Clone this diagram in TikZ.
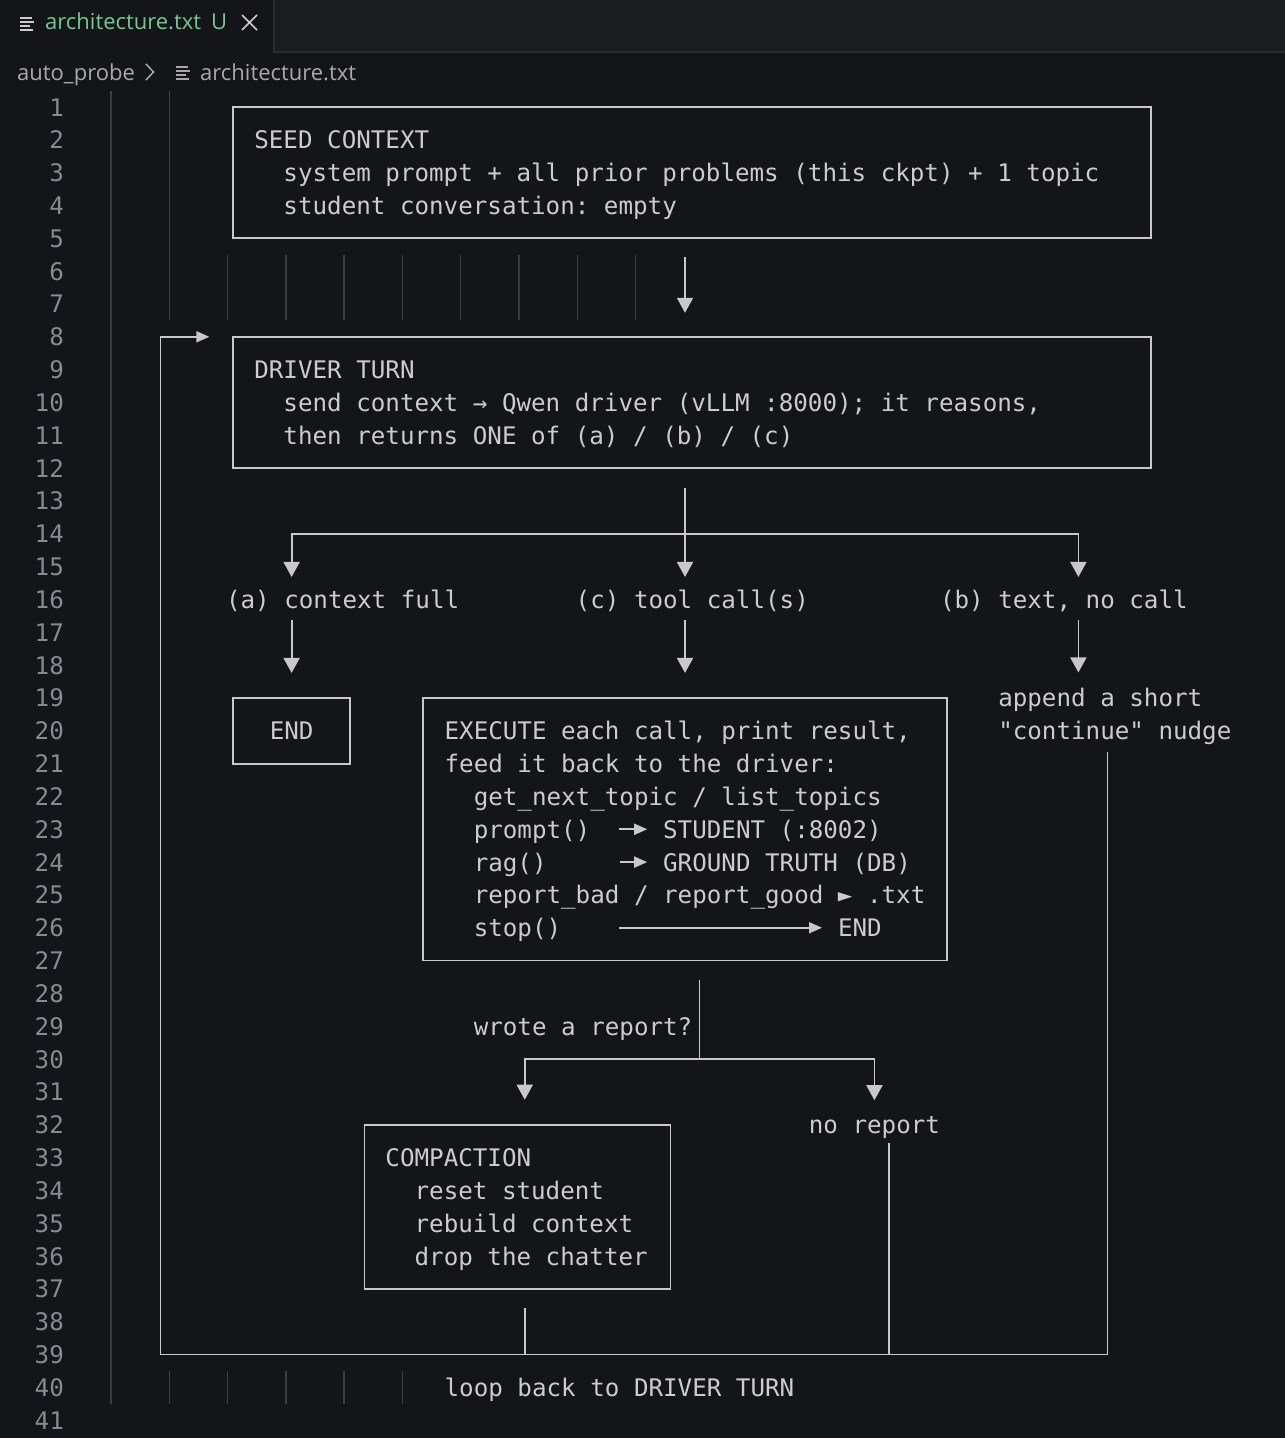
\documentclass[tikz,border=0pt]{standalone}
\usepackage{fontspec}
\usetikzlibrary{arrows.meta}
\newfontfamily\mono{DejaVu Sans Mono}
\newfontfamily\uifont{Open Sans}
\newcommand\edfont{\mono\fontsize{24.2pt}{32.83pt}\selectfont}
\newcommand\rowst{\rule[-6.5pt]{0pt}{31pt}}
\newcommand\ind{\hspace*{29.14pt}}
\definecolor{edbg}{HTML}{141518}
\definecolor{tabbar}{HTML}{1B1C1F}
\definecolor{tabborder}{HTML}{2B2C2F}
\definecolor{textgray}{HTML}{CCCCCC}
\definecolor{linegray}{HTML}{C8C8C8}
\definecolor{numgray}{HTML}{858A93}
\definecolor{guidegray}{HTML}{3C3D40}
\definecolor{gitgreen}{HTML}{73C991}
\definecolor{crumbgray}{HTML}{A9A9A9}
\tikzset{
  box/.style={
    rectangle,
    draw=linegray,
    line width=1.8pt,
    outer sep=0pt,
    text=textgray,
    font=\edfont,
    align=flush left,
    execute at begin node={\spaceskip=14.57pt\xspaceskip=14.57pt},
    inner xsep=21pt,
    inner ysep=0pt
  },
  txt/.style={
    text=textgray,
    font=\edfont,
    inner sep=0pt,
    outer sep=0pt,
    text height=24.5pt,
    text depth=6.5pt,
    anchor=west
  },
  note/.style={
    text=textgray,
    font=\edfont,
    inner sep=0pt,
    outer sep=0pt,
    align=left,
    anchor=west
  },
  lineno/.style={
    text=numgray,
    font=\edfont,
    inner sep=0pt,
    text height=24.5pt,
    text depth=6.5pt,
    anchor=east
  },
  tabtext/.style={text=gitgreen, font=\uifont\fontsize{22pt}{26pt}\selectfont, inner sep=0pt, anchor=base west},
  crumb/.style={text=crumbgray, font=\uifont\fontsize{22pt}{26pt}\selectfont, inner sep=0pt, anchor=base west},
  wire/.style={draw=linegray, line width=1.8pt},
  arrow/.style={wire, -{Triangle[length=15pt, width=16pt]}},
  pointer/.style={wire, -{Triangle[length=13pt, width=11pt]}},
  guide/.style={draw=guidegray, line width=1.4pt}
}
\begin{document}
\begin{tikzpicture}[x=1pt, y=-1pt]
  \useasboundingbox (0,0) rectangle (1285,1438);
  \fill[edbg] (0,0) rectangle (1285,1438);

  % tab bar and breadcrumb
  \fill[tabbar] (274,0) rectangle (1285,52);
  \draw[tabborder, line width=1.5pt] (274,0) -- (274,52) -- (1285,52);
  \foreach \y/\w in {18/12, 22/14, 26/10, 30/13}
    \draw[textgray, line width=1.6pt] (20,\y) -- ++(\w,0);
  \node[tabtext] (tabname) at (45,29.5) {architecture.txt};
  \node[tabtext] (tabstate) at (211,29.5) {U};
  \draw[textgray, line width=1.6pt] (242,15) -- (257,30) (257,15) -- (242,30);
  \node[crumb] (folder) at (17,80) {auto\_probe};
  \draw[crumbgray, line width=1.5pt] (146,64) -- (153.5,72) -- (146,80);
  \foreach \y/\w in {67/12, 71/14, 75/10, 79/13}
    \draw[crumbgray, line width=1.6pt] (176,\y) -- ++(\w,0);
  \node[crumb] (crumbfile) at (200,80) {architecture.txt};

  \begin{scope}[x=14.57pt, y=-32.83pt, shift={(109.5pt,-107pt)}]
    \foreach \n in {1,...,41}
      \node[lineno] (ln\n) at (-3.12,\n-1) {\n};
    \draw[guide] (0.1,-0.5) -- (0.1,39.5);
    \draw[guide] (4.1,-0.5) -- (4.1,6.5);
    \foreach \k in {2,...,9}
      \draw[guide] (4*\k+0.1,4.5) -- (4*\k+0.1,6.5);
    \foreach \k in {1,...,5}
      \draw[guide] (4*\k+0.1,38.5) -- (4*\k+0.1,39.5);

    \node[box, text width=875.91pt, minimum height=131.32pt] (seed) at (40,2)
      {\rowst SEED CONTEXT\\
       \rowst\ind system prompt + all prior problems (this ckpt) + 1 topic\\
       \rowst\ind student conversation: empty};
    \node[box, text width=875.91pt, minimum height=131.32pt] (driver) at (40,9)
      {\rowst DRIVER TURN\\
       \rowst\ind send context → Qwen driver (vLLM :8000); it reasons,\\
       \rowst\ind then returns ONE of (a) / (b) / (c)};

    \node[txt] (lblA) at (8,15) {(a) context full};
    \node[txt] (lblC) at (32,15) {(c) tool call(s)};
    \node[txt] (lblB) at (57,15) {(b) text, no call};

    \node[box, align=center, inner xsep=0pt, minimum width=116.56pt, minimum height=65.66pt] (endbox) at (12.5,19) {\rowst END};
    \node[box, minimum width=524.52pt, minimum height=262.64pt] (exec) at (39.5,22) {};
    \node[txt] (exectitle) at (23,19) {EXECUTE each call, print result,};
    \node[txt] (execfeed) at (23,20) {feed it back to the driver:};
    \node[txt] (tools) at (25,21) {get\_next\_topic / list\_topics};
    \node[txt] (promptcall) at (25,22) {prompt()};
    \node[txt] (student) at (38,22) {STUDENT (:8002)};
    \node[txt] (ragcall) at (25,23) {rag()};
    \node[txt] (truth) at (38,23) {GROUND TRUTH (DB)};
    \node[txt] (report) at (25,24) {report\_bad / report\_good ► .txt};
    \node[txt] (stopcall) at (25,25) {stop()};
    \node[txt] (stopend) at (50,25) {END};
    \node[note] (nudge) at (61,18.5) {\rowst append a short\\\rowst "continue" nudge};

    \node[txt] (wrote) at (25,28) {wrote a report?};
    \node[box, text width=263.97pt, minimum height=164.15pt] (compaction) at (28,33.5)
      {\rowst COMPACTION\\
       \rowst\ind reset student\\
       \rowst\ind rebuild context\\
       \rowst\ind drop the chatter};
    \node[txt] (noreport) at (48,31) {no report};
    \node[txt] (loopnote) at (23,39) {loop back to DRIVER TURN};

    \coordinate (spine) at (39.5,0);
    \coordinate (colA) at (12.5,0);
    \coordinate (colB) at (66.5,0);
    \coordinate (colK) at (28.5,0);
    \coordinate (colR) at (53.5,0);
    \coordinate (colN) at (68.5,0);
    \coordinate (fork) at (39.5,13);
    \coordinate (fork2) at (40.5,29);
    \coordinate (loopbl) at (3.5,38);
    \coordinate (loopbr) at (68.5,38);

    \draw[arrow, shorten <=19pt, shorten >=24pt] (seed.south -| spine) -- (driver.north -| spine);
    \draw[wire, shorten <=20pt] (driver.south -| spine) -- (fork);
    \draw[arrow, shorten >=7pt] (fork) -| (lblA.north -| colA);
    \draw[arrow, shorten >=7pt] (fork) -- (lblC.north -| spine);
    \draw[arrow, shorten >=7pt] (fork) -| (lblB.north -| colB);
    \draw[arrow, shorten <=5pt, shorten >=25pt] (lblA.south -| colA) -- (endbox.north -| colA);
    \draw[arrow, shorten <=5pt, shorten >=25pt] (lblC.south -| spine) -- (exec.north -| spine);
    \draw[arrow, shorten <=5pt, shorten >=10pt] (lblB.south -| colB) -- (nudge.north -| colB);

    \draw[pointer, shorten <=29.1pt, shorten >=16pt] (promptcall) -- (student);
    \draw[pointer, shorten <=72.9pt, shorten >=16pt] (ragcall) -- (truth);
    \draw[pointer, shorten <=58.3pt, shorten >=16pt] (stopcall) -- (stopend);

    \draw[wire, shorten <=19pt] (exec.south -| fork2) -- (fork2);
    \draw[arrow, shorten >=25pt] (fork2) -| (compaction.north -| colK);
    \draw[arrow, shorten >=9pt] (fork2) -| (noreport.north);
    \draw[wire, shorten <=19pt] (compaction.south -| colK) -- (colK |- loopbl);
    \draw[wire, shorten <=3pt] (noreport.south -| colR) -- (colR |- loopbl);
    \draw[pointer, shorten <=6pt, shorten >=24pt] (nudge.south -| colN) -- (loopbr) -- (loopbl)
      -- (loopbl |- driver.north west) -- (driver.north west);
  \end{scope}
\end{tikzpicture}
\end{document}
